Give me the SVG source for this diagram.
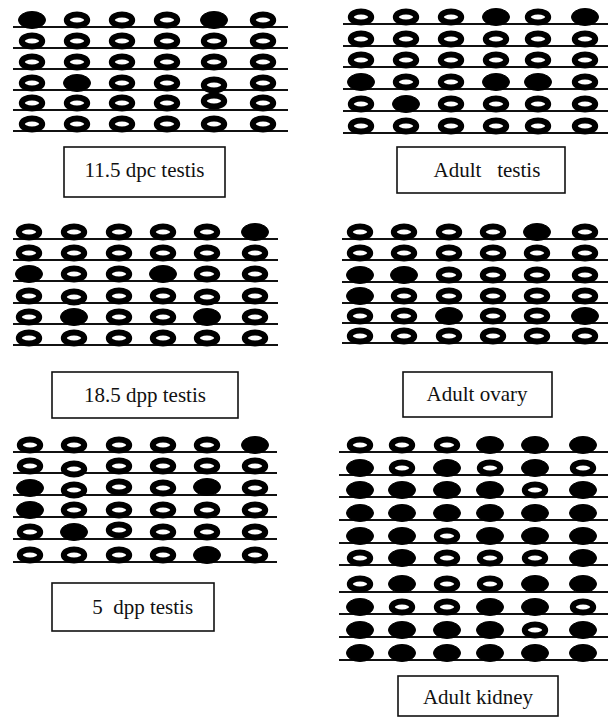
<svg xmlns="http://www.w3.org/2000/svg" xmlns:xlink="http://www.w3.org/1999/xlink" width="610" height="719" viewBox="0 0 610 719">
<style>
.ln{stroke:#111;stroke-width:2;fill:none}
.o{fill:#fff;stroke:#000;stroke-width:6}
.f{fill:#000;stroke:#000;stroke-width:1}
.box{fill:#fff;stroke:#111;stroke-width:1.6}
.lbl{font-family:"Liberation Serif","Times New Roman",serif;font-size:21px;fill:#111;text-anchor:middle;white-space:pre}
</style>
<defs>
<ellipse id="o" cx="0" cy="0" rx="10.2" ry="5.6" class="o"/>
<ellipse id="f" cx="0" cy="0" rx="13.5" ry="8.5" class="f"/>
</defs>
<rect width="610" height="719" fill="#fff"/>

<g id="lines">
<g id="linesA"><path class="ln" d="M13 27H288M13 48H288M13 69H288M13 90H288M13 110H288M13 131H288"/></g>
<g id="linesB"><path class="ln" d="M343 24H608M343 46H608M343 67H608M343 89H608M343 111H608M343 133H608"/></g>
<g id="linesC"><path class="ln" d="M13 239H278M13 260H278M13 281H278M13 303H278M13 324H278M13 345H278"/></g>
<g id="linesD"><path class="ln" d="M342 239H608M342 260H608M342 282H608M342 303H608M342 323H608M342 343H608"/></g>
<g id="linesE"><path class="ln" d="M13 452H277M13 473H277M13 495H277M13 517H277M13 539H277M13 562H277"/></g>
<g id="linesF"><path class="ln" d="M339 452H608M339 475H608M339 497H608M339 520H608M339 543H608M339 565H608M339 592H608M339 614H608M339 637H608M339 660H608"/></g>
</g>

<g id="panel-11-5-dpc">
<use href="#f" x="32" y="20"/><use href="#o" x="77" y="20"/><use href="#o" x="122" y="20"/><use href="#o" x="167" y="20"/><use href="#f" x="214" y="20"/><use href="#o" x="263" y="20"/>
<use href="#o" x="32" y="41"/><use href="#o" x="77" y="41"/><use href="#o" x="122" y="41"/><use href="#o" x="167" y="41"/><use href="#o" x="214" y="41"/><use href="#o" x="263" y="41"/>
<use href="#o" x="32" y="62"/><use href="#o" x="77" y="62"/><use href="#o" x="122" y="62"/><use href="#o" x="167" y="62"/><use href="#o" x="214" y="62"/><use href="#o" x="263" y="62"/>
<use href="#o" x="32" y="83"/><use href="#f" x="77" y="83"/><use href="#o" x="122" y="83"/><use href="#o" x="167" y="83"/><use href="#o" x="214" y="85"/><use href="#o" x="263" y="83"/>
<use href="#o" x="32" y="103"/><use href="#o" x="77" y="103"/><use href="#o" x="122" y="103"/><use href="#o" x="167" y="103"/><use href="#o" x="214" y="101"/><use href="#o" x="263" y="103"/>
<use href="#o" x="32" y="124"/><use href="#o" x="77" y="124"/><use href="#o" x="122" y="124"/><use href="#o" x="167" y="124"/><use href="#o" x="214" y="124"/><use href="#o" x="263" y="124"/>
</g>
<g id="label-11-5-dpc"><rect class="box" x="64" y="147" width="161" height="50"/><text class="lbl" x="144.5" y="177">11.5 dpc testis</text></g>

<g id="panel-adult-testis">
<use href="#o" x="361" y="17"/><use href="#o" x="406" y="17"/><use href="#o" x="451" y="17"/><use href="#f" x="496" y="17"/><use href="#o" x="538" y="17"/><use href="#f" x="585" y="17"/>
<use href="#o" x="361" y="39"/><use href="#o" x="406" y="39"/><use href="#o" x="451" y="39"/><use href="#o" x="496" y="39"/><use href="#o" x="538" y="39"/><use href="#o" x="585" y="39"/>
<use href="#o" x="361" y="60"/><use href="#o" x="406" y="60"/><use href="#o" x="451" y="60"/><use href="#o" x="496" y="60"/><use href="#o" x="538" y="60"/><use href="#o" x="585" y="60"/>
<use href="#f" x="361" y="82"/><use href="#o" x="406" y="82"/><use href="#o" x="451" y="82"/><use href="#f" x="496" y="82"/><use href="#f" x="538" y="82"/><use href="#o" x="585" y="82"/>
<use href="#o" x="361" y="104"/><use href="#f" x="406" y="104"/><use href="#o" x="451" y="104"/><use href="#o" x="496" y="104"/><use href="#o" x="538" y="104"/><use href="#o" x="585" y="104"/>
<use href="#o" x="361" y="126"/><use href="#o" x="406" y="126"/><use href="#o" x="451" y="126"/><use href="#o" x="496" y="126"/><use href="#o" x="538" y="126"/><use href="#o" x="585" y="126"/>
</g>
<g id="label-adult-testis"><rect class="box" x="397" y="147" width="168" height="46"/><text class="lbl" x="487" y="177">Adult   testis</text></g>

<g id="panel-18-5-dpp">
<use href="#o" x="29" y="232"/><use href="#o" x="74" y="232"/><use href="#o" x="119" y="232"/><use href="#o" x="163" y="232"/><use href="#o" x="207" y="232"/><use href="#f" x="255" y="232"/>
<use href="#o" x="29" y="253"/><use href="#o" x="74" y="253"/><use href="#o" x="119" y="253"/><use href="#o" x="163" y="253"/><use href="#o" x="207" y="253"/><use href="#o" x="255" y="253"/>
<use href="#f" x="29" y="274"/><use href="#o" x="74" y="274"/><use href="#o" x="119" y="274"/><use href="#f" x="163" y="274"/><use href="#o" x="207" y="274"/><use href="#o" x="255" y="274"/>
<use href="#o" x="29" y="296"/><use href="#o" x="74" y="297"/><use href="#o" x="119" y="296"/><use href="#o" x="163" y="296"/><use href="#o" x="207" y="297"/><use href="#o" x="255" y="296"/>
<use href="#o" x="29" y="317"/><use href="#f" x="74" y="317"/><use href="#o" x="119" y="317"/><use href="#o" x="163" y="317"/><use href="#f" x="207" y="317"/><use href="#o" x="255" y="317"/>
<use href="#o" x="29" y="338"/><use href="#o" x="74" y="338"/><use href="#o" x="119" y="338"/><use href="#o" x="163" y="338"/><use href="#o" x="207" y="338"/><use href="#o" x="255" y="338"/>
</g>
<g id="label-18-5-dpp"><rect class="box" x="52" y="372" width="186" height="46"/><text class="lbl" x="145" y="402">18.5 dpp testis</text></g>

<g id="panel-adult-ovary">
<use href="#o" x="360" y="232"/><use href="#o" x="404" y="232"/><use href="#o" x="449" y="232"/><use href="#o" x="493" y="232"/><use href="#f" x="537" y="232"/><use href="#o" x="585" y="232"/>
<use href="#o" x="360" y="253"/><use href="#o" x="404" y="253"/><use href="#o" x="449" y="253"/><use href="#o" x="493" y="253"/><use href="#o" x="537" y="253"/><use href="#o" x="585" y="253"/>
<use href="#f" x="360" y="275"/><use href="#f" x="404" y="275"/><use href="#o" x="449" y="275"/><use href="#o" x="493" y="275"/><use href="#o" x="537" y="275"/><use href="#o" x="585" y="275"/>
<use href="#f" x="360" y="296"/><use href="#o" x="404" y="296"/><use href="#o" x="449" y="296"/><use href="#o" x="493" y="296"/><use href="#o" x="537" y="296"/><use href="#o" x="585" y="296"/>
<use href="#o" x="360" y="316"/><use href="#o" x="404" y="316"/><use href="#f" x="449" y="316"/><use href="#o" x="493" y="316"/><use href="#o" x="537" y="316"/><use href="#f" x="585" y="316"/>
<use href="#o" x="360" y="336"/><use href="#o" x="404" y="336"/><use href="#o" x="449" y="336"/><use href="#o" x="493" y="336"/><use href="#o" x="537" y="336"/><use href="#o" x="585" y="336"/>
</g>
<g id="label-adult-ovary"><rect class="box" x="403" y="372" width="149" height="45"/><text class="lbl" x="477" y="401">Adult ovary</text></g>

<g id="panel-5-dpp">
<use href="#o" x="30" y="445"/><use href="#o" x="74" y="445"/><use href="#o" x="119" y="445"/><use href="#o" x="163" y="445"/><use href="#o" x="207" y="445"/><use href="#f" x="255" y="445"/>
<use href="#o" x="30" y="466"/><use href="#o" x="74" y="469"/><use href="#o" x="119" y="466"/><use href="#o" x="163" y="466"/><use href="#o" x="207" y="466"/><use href="#o" x="255" y="466"/>
<use href="#f" x="30" y="488"/><use href="#o" x="74" y="490"/><use href="#o" x="119" y="487"/><use href="#o" x="163" y="488"/><use href="#f" x="207" y="487"/><use href="#o" x="255" y="488"/>
<use href="#f" x="30" y="510"/><use href="#o" x="74" y="510"/><use href="#o" x="119" y="510"/><use href="#o" x="163" y="510"/><use href="#o" x="207" y="510"/><use href="#o" x="255" y="510"/>
<use href="#o" x="30" y="532"/><use href="#f" x="74" y="532"/><use href="#o" x="119" y="530"/><use href="#o" x="163" y="532"/><use href="#o" x="207" y="532"/><use href="#o" x="255" y="532"/>
<use href="#o" x="30" y="555"/><use href="#o" x="74" y="555"/><use href="#o" x="119" y="555"/><use href="#o" x="163" y="555"/><use href="#f" x="207" y="555"/><use href="#o" x="255" y="555"/>
</g>
<g id="label-5-dpp"><rect class="box" x="52" y="583" width="162" height="48"/><text class="lbl" x="140" y="614"> 5  dpp testis</text></g>

<g id="panel-adult-kidney">
<use href="#o" x="360" y="445"/><use href="#o" x="402" y="445"/><use href="#o" x="447" y="445"/><use href="#f" x="490" y="445"/><use href="#f" x="535" y="445"/><use href="#f" x="583" y="445"/>
<use href="#f" x="360" y="468"/><use href="#o" x="402" y="468"/><use href="#f" x="447" y="468"/><use href="#o" x="490" y="468"/><use href="#f" x="535" y="468"/><use href="#o" x="583" y="468"/>
<use href="#f" x="360" y="490"/><use href="#f" x="402" y="490"/><use href="#f" x="447" y="490"/><use href="#f" x="490" y="490"/><use href="#o" x="535" y="490"/><use href="#f" x="583" y="490"/>
<use href="#f" x="360" y="513"/><use href="#f" x="402" y="513"/><use href="#f" x="447" y="513"/><use href="#f" x="490" y="513"/><use href="#f" x="535" y="513"/><use href="#f" x="583" y="513"/>
<use href="#f" x="360" y="536"/><use href="#f" x="402" y="536"/><use href="#o" x="447" y="536"/><use href="#f" x="490" y="536"/><use href="#f" x="535" y="536"/><use href="#f" x="583" y="536"/>
<use href="#o" x="360" y="558"/><use href="#f" x="402" y="558"/><use href="#o" x="447" y="558"/><use href="#o" x="490" y="558"/><use href="#o" x="535" y="558"/><use href="#f" x="583" y="558"/>
<use href="#o" x="360" y="584"/><use href="#f" x="402" y="584"/><use href="#o" x="447" y="584"/><use href="#o" x="490" y="584"/><use href="#f" x="535" y="584"/><use href="#f" x="583" y="584"/>
<use href="#f" x="360" y="607"/><use href="#o" x="402" y="607"/><use href="#o" x="447" y="607"/><use href="#f" x="490" y="607"/><use href="#f" x="535" y="607"/><use href="#o" x="583" y="607"/>
<use href="#f" x="360" y="630"/><use href="#f" x="402" y="630"/><use href="#f" x="447" y="630"/><use href="#f" x="490" y="630"/><use href="#o" x="535" y="630"/><use href="#f" x="583" y="630"/>
<use href="#f" x="360" y="653"/><use href="#f" x="402" y="653"/><use href="#f" x="447" y="653"/><use href="#f" x="490" y="653"/><use href="#f" x="535" y="653"/><use href="#f" x="583" y="653"/>
</g>
<g id="label-adult-kidney"><rect class="box" x="398" y="676" width="160" height="40"/><text class="lbl" x="478" y="704">Adult kidney</text></g>
</svg>
